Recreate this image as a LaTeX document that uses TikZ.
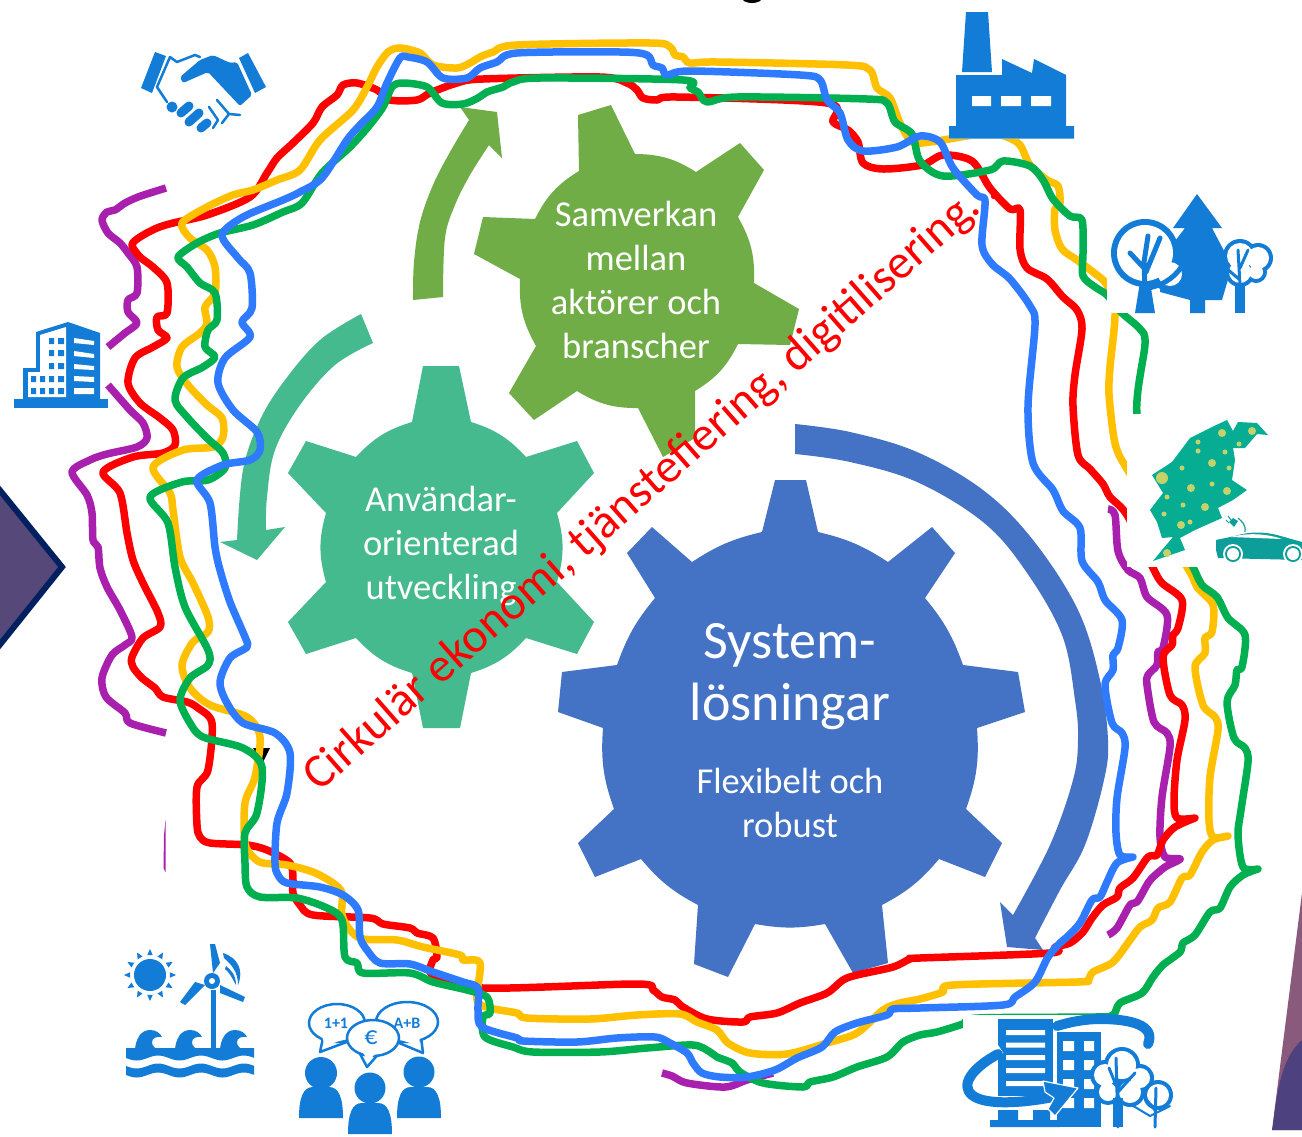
\documentclass[tikz,border=0pt]{standalone}
\usepackage{fontspec}
\setmainfont{Carlito}
\definecolor{gearblue}{HTML}{4472C4}
\definecolor{gearteal}{HTML}{44BA8E}
\definecolor{gearlime}{HTML}{70AD47}
\definecolor{lred}{HTML}{FF0000}
\definecolor{lyellow}{HTML}{FFC000}
\definecolor{lgreen}{HTML}{00B050}
\definecolor{lblue}{HTML}{2E7BFF}
\definecolor{lpurple}{HTML}{A920AE}
\definecolor{iconblue}{HTML}{127CD6}
\definecolor{mapteal}{HTML}{06AD92}
\definecolor{cardteal}{HTML}{0E9E9A}
\definecolor{mapdot}{HTML}{C5D26A}
\tikzset{
  wob/.style={line width=7.5pt,line cap=round,line join=round},
  wobcut/.style={line width=7.5pt,line cap=butt,line join=round},
  gearlabel/.style={text=white,align=center,inner sep=0pt,font=\fontsize{36.5}{44}\selectfont},
  ic/.style={fill=iconblue},
  icl/.style={draw=iconblue,line cap=round,line join=round},
  mask/.style={fill=white},
  dotm/.style={fill=mapdot},
  personbody/.pic={\fill[ic] (-22,0) .. controls (-22,-20) and (-18,-31) .. (-8,-31) -- (8,-31) .. controls (18,-31) and (22,-20) .. (22,0) -- cycle;},
}
\begin{document}
\begin{tikzpicture}[x=1pt,y=-1pt]
\useasboundingbox (0,0) rectangle (1302,1136);
\clip (0,0) rectangle (1302,1136);
\fill[white] (0,0) rectangle (1302,1136);
% fragment of clipped heading
\fill[black] (752,-2) ellipse [x radius=10,y radius=5];
% side shapes
\fill[fill={rgb,255:red,87;green,72;blue,122},draw={rgb,255:red,0;green,32;blue,96},line width=6pt,line join=miter] (-6,483) -- (62,567) -- (-6,652) -- cycle;
\fill[fill={rgb,255:red,138;green,90;blue,124}] (1302,893) -- (1272,1130) -- (1302,1130) -- cycle;
\fill[fill={rgb,255:red,78;green,65;blue,128}] (1302,1040) .. controls (1285,1055) and (1278,1080) .. (1273,1125) -- (1272,1130) -- (1302,1130) -- cycle;
% gears
\fill[gearlime] (579,171) -- (578,115) -- (611,105) -- (635,154) to[bend left=16] (696,172) -- (740,143) -- (764,170) -- (738,217) to[bend left=16] (754,283) -- (799,309) -- (790,345) -- (738,344) to[bend left=16] (695,391) -- (695,438) -- (663,457) -- (638,408) to[bend left=16] (577,391) -- (534,420) -- (509,393) -- (536,346) to[bend left=16] (520,279) -- (474,254) -- (483,217) -- (535,219) to[bend left=16] cycle;
\fill[gearteal] (412,422) -- (423,366) -- (459,366) -- (471,422) to[bend left=15] (526,457) -- (577,441) -- (594,473) -- (557,513) to[bend left=16] (557,582) -- (594,622) -- (577,654) -- (526,638) to[bend left=15] (471,673) -- (460,728) -- (423,728) -- (412,673) to[bend left=15] (356,638) -- (306,654) -- (288,622) -- (326,582) to[bend left=16] (326,513) -- (288,473) -- (306,441) -- (356,457) to[bend left=15] cycle;
\fill[gearblue] (818,532) to[bend left=10] (888,562) -- (932,527) -- (955,553) -- (925,598) to[bend left=10] (963,665) -- (1018,672) -- (1025,712) -- (977,728) to[bend left=12] (966,809) -- (1002,843) -- (985,877) -- (939,859) to[bend left=11] (882,905) -- (888,963) -- (853,973) -- (825,924) to[bend left=10] (755,924) -- (728,977) -- (694,964) -- (698,905) to[bend left=11] (641,859) -- (595,877) -- (578,843) -- (614,809) to[bend left=12] (603,728) -- (558,712) -- (562,672) -- (617,665) to[bend left=10] (655,598) -- (627,553) -- (652,527) -- (692,562) to[bend left=10] (762,532) -- (775,480) -- (806,480) -- cycle;
% curved arrows
\fill[gearlime] plot[smooth,tension=.6] coordinates {(413,300) (414,262) (420,222) (433,185) (450,152) (469,120)} -- (460,107) -- (497,112) -- (502,158) -- plot[smooth,tension=.6] coordinates {(489,145) (470,175) (455,205) (445,238) (443,297)} -- cycle;
\fill[gearteal] plot[smooth,tension=.6] coordinates {(361,314) (320,340) (285,380) (260,420) (243,470) (237,540)} -- (220,542) -- (257,560) -- (285,527) -- plot[smooth,tension=.6] coordinates {(266,530) (267,497) (275,450) (300,405) (335,365) (373,343)} -- cycle;
\fill[gearblue] plot[smooth,tension=.6] coordinates {(795,424) (850,432) (917,452) (983,490) (1033,540) (1078,610) (1100,680) (1108,740) (1104,780) (1085,845) (1060,890) (1035,938)} -- (1043,950) -- (1007,947) -- (1000,902) -- plot[smooth,tension=.6] coordinates {(1013,915) (1050,845) (1073,780) (1078,740) (1075,700) (1062,635) (1025,570) (983,522) (917,482) (850,462) (795,454)} -- cycle;
% gear texts
\node[gearlabel] (samverkan) at (636,280) {Samverkan\\mellan\\aktörer och\\branscher};
\node[gearlabel] (anvandar) at (441,546) {Användar-\\orienterad\\utveckling};
\node[gearlabel,font=\fontsize{54}{62}\selectfont] (system) at (790,677) {System-\\lösningar};
\node[gearlabel] (flexibelt) at (790,803) {Flexibelt och\\robust};
\node[text=lred,rotate=41.3,inner sep=0pt,font=\fontsize{48}{54}\selectfont] (cirkular) at (651,485) {Cirkulär ekonomi, tjänstefiering, digitilisering…};
% small black tip
\fill[black] (253,748) -- (270,748) -- (262,764) -- cycle;
% purple
\draw[wobcut,lpurple] plot[smooth,tension=.5] coordinates {(166,188) (150,193) (138,197) (125,203) (115,210) (107,212) (102,220) (108,233) (120,243) (128,253) (137,267) (137,293) (128,300) (128,312) (137,323) (125,333) (108,347)};
\draw[wobcut,lpurple] plot[smooth,tension=.5] coordinates {(108,385) (130,410) (143,423) (147,438) (137,447) (107,454) (90,460) (72,472) (87,495) (92,513) (93,540) (98,547) (100,568) (107,587) (120,610) (132,637) (125,645) (112,655) (102,678) (106,697) (125,713) (130,723) (166,733)};
\fill[lpurple] (165.5,820) -- (165.5,872) -- (163.5,868) -- (164,835) -- cycle;
\draw[wobcut,lpurple] plot[smooth,tension=.5] coordinates {(1108,509) (1115,515) (1118,551) (1128,570) (1140,578) (1147,597) (1167,615) (1163,648) (1158,652) (1157,665) (1148,675) (1147,685) (1154,722) (1167,733) (1170,747) (1162,797) (1160,837) (1165,857) (1180,859) (1165,867) (1152,878) (1148,883) (1137,902) (1130,905) (1117,928) (1108,935)};
\fill[lpurple] (1180,859) circle (3.75);
\draw[wobcut,lpurple] plot[smooth,tension=.5] coordinates {(662,1073) (672,1076) (687,1083) (725,1087) (747,1080) (773,1073)};
% red
\draw[wob,lred] plot[smooth,tension=.5] coordinates {(1195,818) (1175,827) (1163,840) (1157,855) (1148,857) (1133,878) (1120,888) (1117,897) (1103,905) (1092,918) (1083,932) (1070,943) (1055,947) (1050,953) (920,958) (910,959) (893,967) (857,975) (843,980) (827,993) (800,1003) (777,1013) (750,1017) (743,1022) (707,1019) (683,1007) (675,1000) (662,997) (653,990) (637,984) (483,988) (433,975) (433,960) (437,957) (433,938) (417,933) (410,928) (383,924) (370,918) (313,915) (300,905) (293,893) (293,880) (290,863) (267,850) (247,845) (210,843) (200,837) (197,825) (197,787) (208,770) (212,723) (198,708) (187,702) (163,697) (155,688) (142,678) (133,667) (132,657) (143,638) (160,627) (158,613) (143,583) (133,560) (127,533) (120,493) (103,472) (133,457) (163,453) (175,445) (173,430) (160,418) (140,403) (128,383) (135,358) (153,347) (167,338) (158,330) (157,317) (167,313) (167,283) (153,267) (140,257) (132,245) (140,237) (157,228) (173,223) (207,215) (250,197) (267,173) (277,158) (293,143) (313,123) (322,107) (337,95) (343,85) (357,83) (377,90) (390,100) (417,100) (430,93) (457,83) (483,79) (600,77) (627,83) (637,90) (643,98) (657,100) (677,97) (827,103) (833,122) (848,130) (858,142) (863,163) (883,169) (922,165) (943,155) (972,161) (990,188) (1010,209) (1020,210) (1020,249) (1027,268) (1047,279) (1063,297) (1077,310) (1082,329) (1075,375) (1073,406) (1078,455) (1090,469) (1103,484) (1110,497) (1127,515) (1153,568) (1162,583) (1182,600) (1178,628) (1173,635) (1172,645) (1163,657) (1170,695) (1182,705) (1185,720) (1177,760) (1174,800) (1177,818) (1195,818)};
% yellow
\draw[wob,lyellow] plot[smooth,tension=.5] coordinates {(1228,836) (1213,840) (1202,852) (1190,875) (1182,878) (1170,902) (1158,908) (1152,920) (1140,927) (1130,940) (1113,962) (1093,972) (1088,980) (1077,982) (953,985) (943,992) (920,999) (900,1003) (883,1010) (857,1033) (827,1043) (787,1054) (750,1053) (728,1043) (717,1030) (697,1022) (680,1014) (637,1015) (590,1019) (527,1018) (517,1013) (490,1008) (477,1000) (480,963) (463,960) (460,955) (423,947) (397,940) (363,939) (350,930) (342,915) (342,893) (333,883) (313,872) (287,865) (263,863) (253,857) (245,843) (245,803) (255,777) (260,737) (247,717) (210,705) (190,688) (182,665) (193,642) (208,632) (208,617) (193,583) (180,557) (173,510) (170,493) (153,467) (183,450) (213,447) (223,437) (222,418) (207,405) (188,385) (177,367) (182,347) (200,333) (207,323) (205,307) (215,293) (215,267) (207,250) (190,238) (182,223) (207,207) (233,195) (253,190) (277,180) (300,170) (320,140) (353,110) (367,87) (377,67) (388,52) (400,48) (420,53) (433,65) (457,68) (470,63) (480,57) (493,52) (517,45) (650,43) (670,47) (675,55) (683,57) (690,63) (717,62) (847,65) (870,70) (877,88) (890,98) (900,123) (912,142) (930,142) (967,136) (990,133) (1007,137) (1020,145) (1030,165) (1047,180) (1058,186) (1060,203) (1055,209) (1055,230) (1062,249) (1077,260) (1093,272) (1107,285) (1115,313) (1110,367) (1109,394) (1113,432) (1117,450) (1127,469) (1187,567) (1197,587) (1213,605) (1212,632) (1205,638) (1205,653) (1195,667) (1203,705) (1215,717) (1218,730) (1210,777) (1209,820) (1213,837) (1228,836)};
% green
\draw[wob,lgreen] plot[smooth,tension=.5] coordinates {(1258,869) (1243,875) (1230,887) (1220,908) (1210,912) (1195,935) (1183,943) (1180,952) (1163,965) (1153,977) (1142,993) (1120,1003) (1113,1015) (1095,1017) (978,1018) (963,1024) (937,1032) (920,1035) (903,1042) (887,1057) (857,1067) (833,1077) (810,1082) (803,1087) (763,1083) (740,1072) (732,1063) (717,1057) (710,1052) (693,1045) (647,1048) (600,1052) (533,1052) (513,1047) (485,1037) (483,1017) (490,1013) (487,997) (467,990) (433,982) (410,973) (363,973) (357,963) (345,957) (342,920) (327,908) (297,898) (260,897) (247,887) (245,863) (245,833) (257,813) (262,767) (243,748) (203,737) (190,723) (180,700) (190,678) (208,665) (208,650) (185,607) (175,567) (168,523) (150,497) (182,482) (208,480) (225,468) (223,453) (207,438) (187,417) (175,400) (183,378) (203,367) (215,357) (205,347) (208,330) (217,320) (215,293) (200,283) (187,267) (178,257) (197,243) (220,233) (253,225) (283,212) (302,203) (322,173) (350,147) (368,127) (383,107) (392,87) (403,83) (427,87) (442,103) (463,104) (478,98) (487,92) (503,87) (513,82) (540,78) (683,80) (690,88) (698,92) (707,102) (737,97) (867,99) (887,103) (895,122) (912,134) (920,161) (943,176) (990,170) (1003,161) (1030,166) (1043,180) (1053,199) (1070,216) (1082,220) (1083,253) (1083,276) (1095,287) (1107,295) (1122,313) (1140,329) (1145,344) (1137,415) (1160,500) (1193,567) (1202,585) (1217,597) (1228,618) (1245,635) (1242,667) (1237,670) (1235,685) (1227,702) (1234,738) (1245,748) (1248,762) (1241,810) (1238,835) (1243,867) (1258,869)};
% blue
\draw[wob,lblue] plot[smooth,tension=.5] coordinates {(1133,857) (1117,863) (1107,882) (1100,897) (1092,900) (1080,923) (1067,937) (1060,943) (1048,957) (1035,982) (1015,997) (1003,1005) (920,1008) (893,1009) (887,1015) (857,1023) (835,1032) (822,1047) (797,1058) (775,1070) (747,1077) (720,1077) (702,1073) (693,1063) (687,1053) (670,1043) (655,1037) (617,1038) (577,1042) (523,1041) (517,1038) (482,1027) (478,1010) (478,988) (463,982) (433,972) (410,964) (380,963) (367,950) (360,937) (358,910) (343,895) (320,887) (287,883) (278,875) (275,863) (277,823) (287,793) (290,753) (275,733) (243,723) (227,703) (220,682) (230,658) (247,647) (245,637) (230,602) (220,570) (215,547) (210,503) (197,480) (223,465) (250,460) (260,450) (257,432) (233,410) (218,383) (225,358) (250,337) (242,322) (252,308) (250,273) (238,258) (222,235) (243,217) (283,200) (300,192) (322,178) (347,140) (360,125) (377,107) (387,83) (400,58) (408,57) (427,62) (443,78) (467,78) (480,68) (497,62) (517,53) (620,52) (647,55) (653,65) (662,68) (667,75) (690,71) (800,75) (820,80) (827,100) (840,113) (848,140) (863,151) (897,147) (920,136) (940,142) (953,168) (977,195) (985,201) (982,245) (992,264) (1010,279) (1030,306) (1035,325) (1028,406) (1033,463) (1053,490) (1063,511) (1080,528) (1082,561) (1098,582) (1105,600) (1122,620) (1118,648) (1113,655) (1113,670) (1105,685) (1112,723) (1122,733) (1125,748) (1117,798) (1116,833) (1120,855) (1133,857)};
% white backgrounds of the icon pictures
\fill[mask] (949,0) rectangle (1074,139);
\fill[mask] (1107,195) rectangle (1275,313);
\fill[mask] (1127,414) rectangle (1302,567);
\fill[mask] (963,1015) rectangle (1175,1136);
% factory
\fill[ic] (966,12) -- (988,12) -- (992,72) -- (962,72) -- cycle;
\fill[ic] (956,75) -- (1002,75) -- (1002,59) -- (1032,73) -- (1034,59) -- (1066,75) -- (1066,126) -- (1074,126) -- (1074,138.5) -- (949,138.5) -- (949,126) -- (956,126) -- cycle;
\fill[white] (972,96) rectangle (991,106) (1001,96) rectangle (1021,106) (1031,96) rectangle (1051,106);
% handshake
\fill[ic] (155,52) -- (166,56) -- (152,93) -- (141,88) -- cycle;
\fill[ic] (248,53) -- (266,87) -- (255,93) -- (239,58) -- cycle;
\fill[ic,rounded corners=2pt] (180,77) -- (200,60) -- (213,55) -- (230,63) -- (237,62) -- (252,95) -- (240,106) -- (208,72) -- (183,83) -- cycle;
\draw[icl,line width=2.5pt] (200,57) -- (195,55) -- (177,62) -- (170,57) -- (157,87) -- (167,102);
\fill[ic] (172,107) circle (5.5);
\draw[icl,line width=9pt] (181,113) -- (189,106) (189,122) -- (199,113) (201,128) -- (207,123);
\draw[icl,line width=2.5pt] (209,107) -- (218,120) -- (213,128) (217,100) -- (229,114) -- (222,123) (229,114) -- (240,115);
% office tower left
\fill[ic] (36,332) -- (68,322) -- (100,333) -- (100,400) -- (23,400) -- (23,368) -- (36,368) -- cycle;
\fill[white] (40,335) -- (66,327) -- (66,397) -- (28,397) -- (28,372) -- (40,372) -- cycle;
\fill[ic] \foreach \yy in {338,350,363} {(49,\yy) rectangle ++(5,6) (58,\yy) rectangle ++(6,6)};
\fill[ic] \foreach \yy in {376,388} {(31,\yy) rectangle ++(5,6) (40,\yy) rectangle ++(5,6) (49,\yy) rectangle ++(5,6) (58,\yy) rectangle ++(6,6)};
\fill[white] (74,338) -- (94,341) -- (94,345) -- (74,343) -- cycle (74,351) -- (94,354) -- (94,358) -- (74,356) -- cycle (74,364) -- (94,366) -- (94,370) -- (74,369) -- cycle (74,376) -- (94,377) -- (94,382) -- (74,381) -- cycle (74,388) rectangle (94,394);
\fill[ic] (14,399) rectangle (108,408);
% tree icon
\fill[ic] (1197,194) -- (1222,228) -- (1212,228) -- (1232,266) -- (1222,300) -- (1205,300) -- (1205,313) -- (1190,313) -- (1190,300) -- (1160,292) -- (1165,240) -- (1175,241) -- (1185,228) -- (1173,228) -- cycle;
\fill[ic] (1145,253) circle (34) (1170,274) circle (18);
\fill[white] (1145,253) circle (28) (1170,274) circle (12);
\fill[ic] (1135,313) -- (1140,282) -- (1150,282) -- (1155,313) -- cycle;
\draw[icl,line width=5pt] (1145,290) -- (1144,262) -- (1148,236) (1144,268) -- (1130,253) (1146,272) -- (1160,238) (1148,288) .. controls (1165,285) and (1178,275) .. (1184,262);
\fill[ic] (1240,256) circle (17) (1258,258) circle (15) (1240,272) circle (15) (1256,272) circle (11);
\fill[white] (1240,256) circle (13) (1258,258) circle (11) (1240,272) circle (11) (1256,272) circle (7);
\fill[ic] (1235,313) -- (1235,285) -- (1245,285) -- (1245,313) -- cycle;
\draw[icl,line width=3pt] (1240,285) -- (1238,250) (1240,268) -- (1248,250) (1240,280) -- (1226,268);
% map and car
\fill[mapteal] (1227,420) -- (1233,431) -- (1238,422) -- (1257,423) -- (1268,435) -- (1257,434) -- (1245,448) -- (1233,448) -- (1235,460) -- (1232,480) -- (1247,490) -- (1233,500) -- (1218,508) -- (1222,518) -- (1195,530) -- (1180,538) -- (1185,550) -- (1153,561) -- (1162,550) -- (1173,537) -- (1162,538) -- (1157,522) -- (1150,510) -- (1163,493) -- (1152,475) -- (1172,462) -- (1190,438) -- (1212,427) -- cycle;
\fill[dotm] (1162,478) circle (6) (1222,433) circle (4) (1252,431) circle (4) (1198,442) circle (2.5) (1198,451) circle (2.5) (1239,444) circle (2.5) (1225,452) circle (2.5) (1212,463) circle (4) (1182,468) circle (2.5) (1229,468) circle (2.5) (1191,488) circle (4) (1212,484) circle (2.5) (1227,491) circle (4) (1167,497) circle (2.5) (1183,505) circle (2.5) (1205,507) circle (4) (1164,514) circle (2.5) (1181,525) circle (4) (1190,522) circle (2.5) (1167,553) circle (4);
\fill[cardteal] (1216,540) -- (1235,536) .. controls (1250,531) and (1265,532) .. (1277,535) -- (1302,542) -- (1302,560) -- (1218,558) -- (1216,550) -- cycle;
\fill[white] (1231,537) .. controls (1245,533) and (1265,533) .. (1282,539) -- cycle;
\fill[white] (1233,554) circle (10) (1293,554) circle (10);
\fill[cardteal] (1233,554) circle (8) (1293,554) circle (8);
\fill[white] (1233,554) circle (6) (1293,554) circle (6);
\draw[cardteal,line width=1.2pt] (1245,532) .. controls (1246,524) and (1242,522) .. (1238,518);
\fill[cardteal] (1238,521) -- (1233,518) -- (1229,522) -- (1234,527) -- cycle;
\draw[cardteal,line width=1pt] (1231,520) -- (1228,516) (1229,523) -- (1226,520);
% sun
\fill[ic] (150,975) circle (16);
\foreach \aa in {0,30,...,330} {
  \fill[ic] ({150+20*cos(\aa-8)},{975+20*sin(\aa-8)}) -- ({150+20*cos(\aa+8)},{975+20*sin(\aa+8)}) -- ({150+26*cos(\aa)},{975+26*sin(\aa)}) -- cycle;
}
% turbine
\fill[ic] (210.5,990) rectangle (216,1050);
\fill[ic] (210,944) -- (215,944) -- (220,963) -- (213,973) -- cycle;
\fill[ic] (180,1002) -- (195,982) -- (205,985) -- (185,1005) -- cycle;
\fill[ic] (220,985) -- (245,997) -- (243,1002) -- (220,993) -- cycle;
\fill[ic] (212,981) circle (8);
\fill[white] (212,981) circle (3);
\fill[ic] (223,953) .. controls (238,958) and (244,970) .. (238,985) .. controls (238,972) and (232,965) .. (224,958) -- cycle;
\fill[ic] (226,966) .. controls (231,970) and (236,975) .. (236,985) .. controls (232,978) and (230,973) .. (225,969) -- cycle;
% waves
\foreach \oo in {0,40,85} {
  \fill[ic] (135+\oo,1049) .. controls (136+\oo,1040) and (140+\oo,1030) .. (150+\oo,1030) .. controls (156+\oo,1030) and (160+\oo,1033) .. (162+\oo,1037) .. controls (157+\oo,1036) and (152+\oo,1038) .. (152+\oo,1042) .. controls (152+\oo,1046) and (155+\oo,1048) .. (158+\oo,1050) -- cycle;
}
\fill[ic] (126,1048) -- (254,1048) -- plot[domain=254:126,samples=50] (\x,{1058+2.5*sin((\x-126)*8.4)}) -- cycle;
\fill[ic] plot[domain=126:254,samples=50] (\x,{1066+2.5*sin((\x-126)*8.4)}) -- plot[domain=254:126,samples=50] (\x,{1075+2.5*sin((\x-126)*8.4)}) -- cycle;
% people
\fill[ic] (321,1073) circle (16) (370,1088) circle (15.5) (419,1072) circle (15.5);
\pic at (321,1118) {personbody};
\pic at (370,1134) {personbody};
\pic at (419,1118) {personbody};
\draw[iconblue,line width=2.5pt,fill=white,line join=round] (320,1052) -- (323,1038) -- (352,1040) -- cycle;
\draw[iconblue,line width=2.5pt,fill=white] (337,1023) ellipse [x radius=28,y radius=19];
\fill[white] (322,1036) -- (345,1039) -- (325,1046) -- cycle;
\draw[iconblue,line width=2.5pt,fill=white,line join=round] (423,1053) -- (421,1037) -- (392,1040) -- cycle;
\draw[iconblue,line width=2.5pt,fill=white] (407,1022) ellipse [x radius=31,y radius=20];
\fill[white] (420,1036) -- (398,1039) -- (419,1046) -- cycle;
\draw[iconblue,line width=2.5pt,fill=white,line join=round] (367,1067) -- (358,1050) -- (382,1050) -- cycle;
\draw[iconblue,line width=2.5pt,fill=white] (373,1038) ellipse [x radius=26,y radius=18];
\fill[white] (361,1049) -- (379,1050) -- (368,1061) -- cycle;
\node[text=iconblue,inner sep=0pt,font=\bfseries\fontsize{16}{16}\selectfont] (oneone) at (336,1023) {1+1};
\node[text=iconblue,inner sep=0pt,font=\bfseries\fontsize{16}{16}\selectfont] (ab) at (407,1023) {A+B};
\node[text=iconblue,inner sep=0pt,font=\fontsize{26}{26}\selectfont] (euro) at (371,1038) {€};
% city icon
\fill[ic] (998,1019) rectangle (1053,1096);
\fill[white] \foreach \yy in {1030,1042.5,1055,1068,1081} {(1006,\yy) rectangle (1045,\yy+5)};
\fill[ic] (1057,1032) rectangle (1101,1127);
\fill[white] \foreach \yy in {1041,1060,1079,1098} {(1063,\yy) rectangle (1074,\yy+10) (1084,\yy) rectangle (1094,\yy+10)};
\fill[ic] (990,1120) rectangle (1060,1127) (998,1110) rectangle (1018,1120) (1033,1110) rectangle (1050,1120);
\draw[icl,line width=10pt] (1148,1044) .. controls (1156,1025) and (1130,1019) .. (1100,1019) .. controls (1085,1019) and (1070,1022) .. (1057,1026);
\draw[draw=white,line width=12pt] (1000,1048) -- (985,1058);
\draw[icl,line width=10pt] (998,1054) .. controls (972,1068) and (960,1085) .. (972,1095) .. controls (985,1106) and (1025,1103) .. (1058,1096);
\fill[ic,draw=white,line width=1.2pt,line join=round] (1043,1081) -- (1078,1088) -- (1055,1116) -- (1048,1109) -- (1054,1098) -- (1045,1092) -- cycle;
\fill[ic] (1122,1065) circle (18) (1105,1075) circle (15) (1140,1078) circle (14) (1108,1092) circle (13) (1130,1092) circle (15);
\fill[white] (1122,1065) circle (14) (1105,1075) circle (11) (1140,1078) circle (10) (1108,1092) circle (9) (1130,1092) circle (11);
\fill[ic] (1158,1095) circle (15);
\fill[white] (1158,1095) circle (11);
\draw[icl,line width=3pt] (1118,1127) -- (1116,1058) (1116,1085) -- (1109,1068) (1118,1092) -- (1135,1073);
\fill[ic] (1113,1127) rectangle (1123,1098);
\draw[icl,line width=3pt] (1155,1127) -- (1156,1088) (1155,1110) -- (1145,1098);
\draw[icl,line width=2pt] (1130,1104) -- (1150,1116) -- (1170,1106);
\end{tikzpicture}
\end{document}
